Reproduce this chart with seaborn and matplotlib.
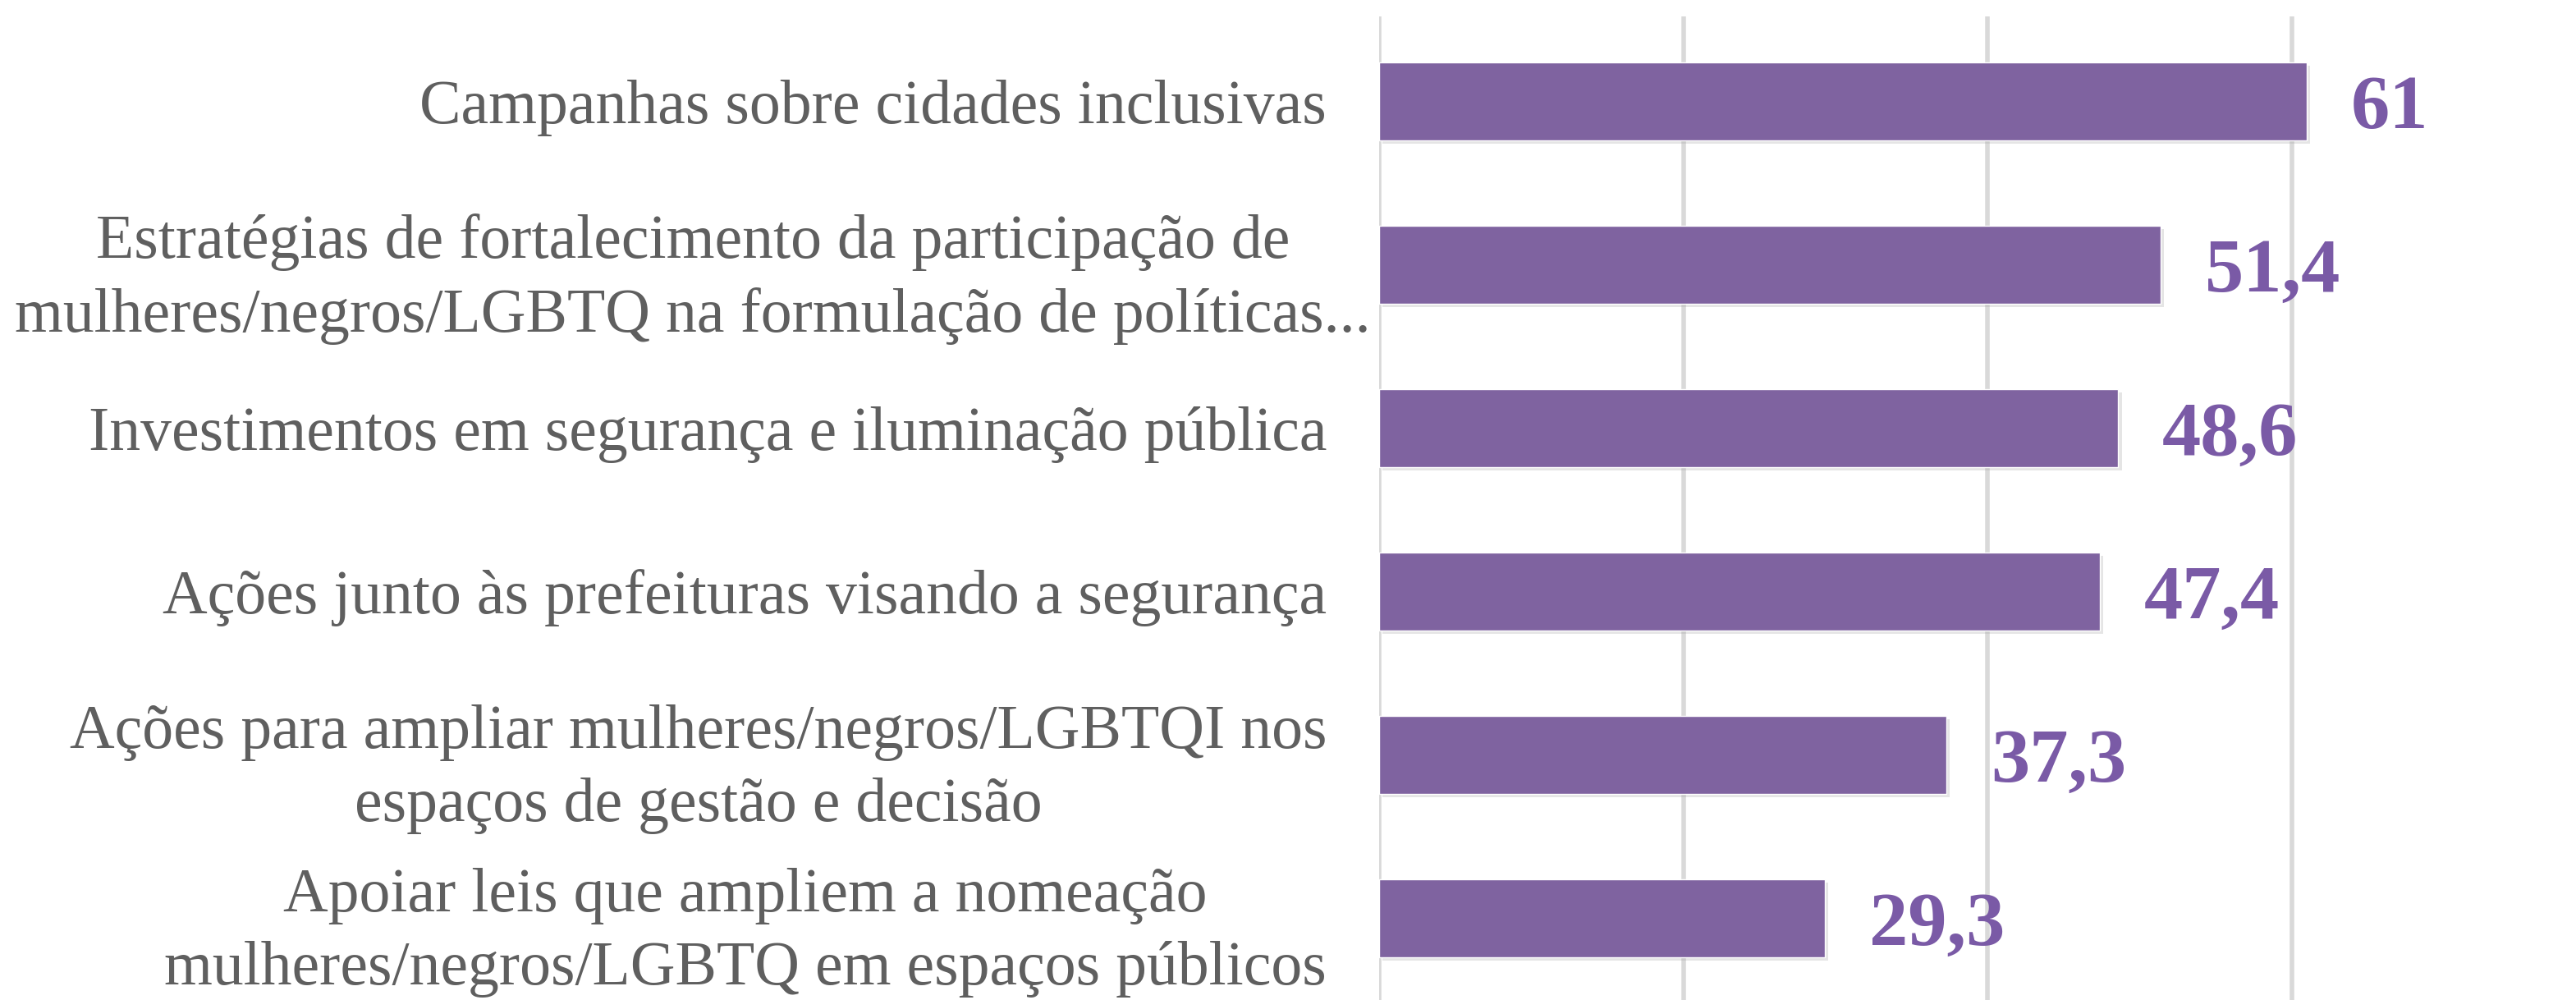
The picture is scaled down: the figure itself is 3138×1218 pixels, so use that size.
import matplotlib
matplotlib.use("Agg")
import matplotlib.pyplot as plt
import matplotlib.transforms as mtransforms
import matplotlib.patheffects as pe
import pandas as pd
import seaborn as sns

categories = [
    "Campanhas sobre cidades inclusivas",
    "Estratégias de fortalecimento da participação de\nmulheres/negros/LGBTQ na formulação de políticas...",
    "Investimentos em segurança e iluminação pública",
    "Ações junto às prefeituras visando a segurança",
    "Ações para ampliar mulheres/negros/LGBTQI nos\nespaços de gestão e decisão",
    "Apoiar leis que ampliem a nomeação\nmulheres/negros/LGBTQ em espaços públicos",
]
values = [61, 51.4, 48.6, 47.4, 37.3, 29.3]
value_labels = ["61", "51,4", "48,6", "47,4", "37,3", "29,3"]

df = pd.DataFrame({"categoria": categories, "valor": values})

sns.set_style("white")
plt.rcParams["font.family"] = ["Liberation Serif", "DejaVu Serif"]

fig = plt.figure(figsize=(31.38, 12.18), dpi=100)
ax = fig.add_axes([1680 / 3138, 0, 1 - 1680 / 3138, 1 - 20 / 1218])

sns.barplot(data=df, x="valor", y="categoria", orient="h", color="#7F63A0",
            saturation=1, width=0.48, ax=ax, zorder=3)

# soft shadow like the original chart
for bar in ax.patches:
    bar.set_path_effects([
        pe.SimplePatchShadow(offset=(3, -3), shadow_rgbFace="#9a9a9a", alpha=0.25),
        pe.Normal(),
    ])

ax.set_xlim(0, 78.7)
ax.set_ylim(5.5, -0.52)
ax.set_xticks([0, 20, 40, 60])
ax.xaxis.grid(True, color="#D9D9D9", linewidth=4, zorder=0)
ax.set_axisbelow(True)
for s in ax.spines.values():
    s.set_visible(False)
ax.set_xlabel("")
ax.set_ylabel("")
ax.tick_params(axis="x", length=0, labelbottom=False)
ax.tick_params(axis="y", length=0, pad=46, labelsize=54.5, labelcolor="#5F5F5F")
for i, lbl in enumerate(ax.get_yticklabels()):
    lbl.set_multialignment("center")
    lbl.set_linespacing(1.37)
    if i == 1:
        lbl.set_transform(lbl.get_transform() +
                          mtransforms.ScaledTranslation(0.54, 0, fig.dpi_scale_trans))

# value labels, nudged a bit below the bar centre as in the original
for i, (v, t) in enumerate(zip(values, value_labels)):
    ax.text(v + 2.9, i + 0.05, t, va="center", ha="left", fontsize=68,
            fontweight="bold", color="#7A5AA6")

fig.savefig("out.png", dpi=100)
